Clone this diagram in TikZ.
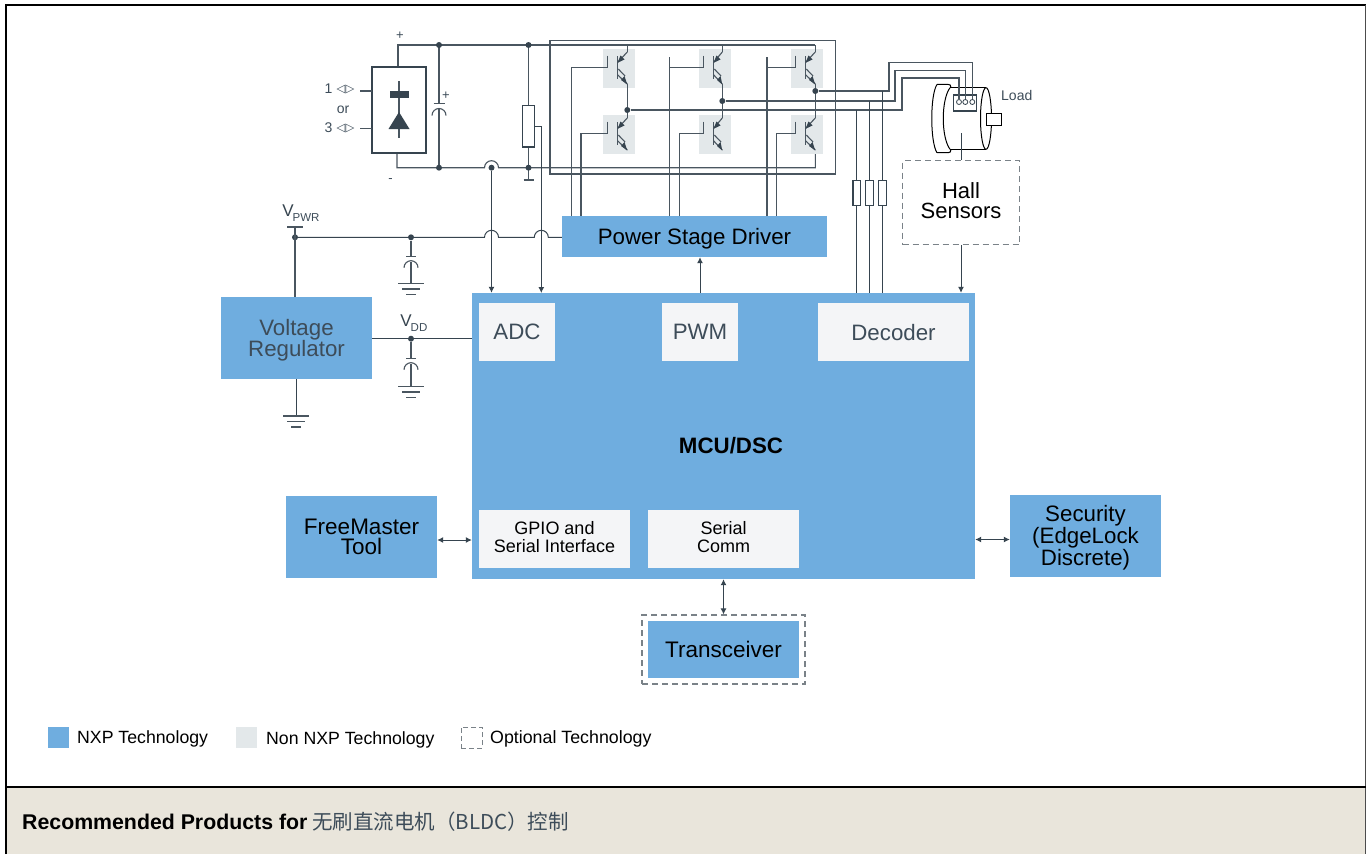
\documentclass[tikz,border=0pt]{standalone}
\usepackage{fontspec}
\setmainfont{Liberation Sans}
\newfontfamily\cjkfont{Noto Sans CJK SC}
\newfontfamily\djfont{DejaVu Sans}
\usetikzlibrary{arrows.meta,calc}
\definecolor{nxpblue}{HTML}{6FADDF}
\definecolor{lite}{HTML}{F4F5F7}
\definecolor{igbt}{HTML}{E3E8EA}
\definecolor{dark}{HTML}{36444F}
\definecolor{wire}{HTML}{4A5660}
\definecolor{txtdark}{HTML}{3D4C59}
\definecolor{band}{HTML}{E9E5DB}
\definecolor{dashc}{HTML}{7A8288}
\tikzset{
  wirel/.style={draw=wire,line width=1.1pt},
  thinw/.style={draw=dark,line width=1pt},
  blk/.style={fill=nxpblue,draw=none,minimum width=#1,inner sep=0pt},
  lbl/.style={inner sep=0pt,align=center,font=\fontsize{22.3}{20}\selectfont},
  lit/.style={fill=lite,draw=none,inner sep=0pt},
  small/.style={inner sep=0pt,align=center,font=\fontsize{18}{18}\selectfont},
  dashbox/.style={draw=dashc,line width=1.2pt,dash pattern=on 6pt off 4pt},
  dotn/.style={circle,fill=dark,draw=none,inner sep=0pt,minimum size=6pt},
  tip1/.style={-{Latex[length=6pt,width=6pt]},draw=dark,line width=1pt},
  tip2/.style={{Latex[length=6pt,width=6pt]}-{Latex[length=6pt,width=6pt]},draw=dark,line width=1pt},
  rst/.style={draw=dark,line width=1.1pt,fill=white},
}
\newcommand{\igbtsym}[3]{%
  \fill[igbt] (#1,#2) rectangle ++(32,39);
  \draw[wirel] (#1+14.5,#2+7) -- (#1+14.5,#2+30);
  \draw[wirel] (#3,#2+3) -- (#1+14.5,#2+13.5);
  \draw[wirel] (#1+15.3,#2+20) -- (#1+22,#2+27);
  \draw[wirel] (#1+14.5,#2+25.7) -- (#3,#2+35);
  \fill[dark] (#1+14.5,#2+13.8) -- (#1+17.5,#2+6.5) -- (#1+21.5,#2+10.5) -- cycle;
  \fill[dark] (#3,#2+35.5) -- (#1+18,#2+31) -- (#1+21.5,#2+27) -- cycle;
  \draw[wirel] (#1+4.3,#2+6.7) -- (#1+4.3,#2+19);
}
\newcommand{\groundsym}[3]{%
  \draw[wirel] (#1-#3,#2) -- (#1+#3,#2);
  \draw[wirel] (#1-#3+4,#2+5.3) -- (#1+#3-4,#2+5.3);
  \draw[wirel] (#1-#3+8,#2+11) -- (#1+#3-8,#2+11);
}
\newcommand{\capsym}[3]{%
  \draw[wirel] (#1-#3,#2) -- (#1+#3,#2);
  \draw[wirel] (#1-7,#2+11) arc[start angle=180,end angle=360,radius=7];
}
\begin{document}
\begin{tikzpicture}[x=1pt,y=-1pt,every node/.style={text=black}]
\useasboundingbox (0,0) rectangle (1367,854);
\fill[white] (0,0) rectangle (1367,854);
\fill[band] (6,787) rectangle (1366,854);
% frame
\draw[black,line width=2.2pt] (6.2,854) -- (6.2,5) -- (1366,5);
\draw[black!70,line width=1pt] (1365.8,5) -- (1365.8,854);
\draw[black,line width=2pt] (6,787) -- (1366,787);

% blocks
\node[blk=151pt,minimum height=82pt] (vreg) at (296.5,338) {};
\node[lbl,text=txtdark,font=\fontsize{22.3}{21.5}\selectfont] (vregt) at (296.5,340) {Voltage\\Regulator};
\node[fill=nxpblue,minimum width=503pt,minimum height=286pt,inner sep=0pt] (mcu) at (723.5,436) {};
\node[font=\fontsize{22.3}{24}\selectfont\bfseries,inner sep=0pt] (mcut) at (731,446) {MCU/DSC};
\node[lit,minimum width=76pt,minimum height=58pt] (adc) at (517,332) {};
\node[lbl,text=txtdark] (adct) at (517,332) {ADC};
\node[lit,minimum width=76pt,minimum height=58pt] (pwm) at (700,332) {};
\node[lbl,text=txtdark] (pwmt) at (700,332) {PWM};
\node[lit,minimum width=151pt,minimum height=58pt] (dec) at (893.5,332) {};
\node[lbl,text=txtdark] (dect) at (893.5,332.5) {Decoder};
\node[lit,minimum width=151pt,minimum height=58pt] (gpio) at (554.5,539) {};
\node[small] (gpiot) at (554.5,537.5) {GPIO and\\Serial Interface};
\node[lit,minimum width=151pt,minimum height=58pt] (ser) at (723.5,539) {};
\node[small] (sert) at (723.5,537.5) {Serial\\Comm};
\node[blk=151pt,minimum height=82pt] (fm) at (361.5,537) {};
\node[lbl,font=\fontsize{22.5}{20.5}\selectfont] (fmt) at (361.5,537) {FreeMaster\\Tool};
\node[blk=151pt,minimum height=82pt] (sec) at (1085.5,536) {};
\node[lbl] (sect) at (1085.5,538) {Security\\(EdgeLock\\Discrete)};
\node[dashbox,minimum width=163pt,minimum height=69pt,inner sep=0pt] (tro) at (723.5,649.5) {};
\node[blk=151pt,minimum height=57pt] (tr) at (723.5,649.5) {};
\node[lbl,font=\fontsize{22.5}{24}\selectfont] (trt) at (723.5,649.5) {Transceiver};
\node[blk=265pt,minimum height=41pt] (psd) at (694.5,236.5) {};
\node[lbl] (psdt) at (694.5,238.5) {Power Stage Driver};
\node[dashbox,minimum width=117pt,minimum height=84pt,inner sep=0pt] (hall) at (961,202.5) {};
\node[lbl,font=\fontsize{22}{20}\selectfont] (hallt) at (961,200.5) {Hall\\Sensors};

% connectors to the MCU
\draw[tip2] (fm.east |- 0,540) -- (mcu.west |- 0,540);
\draw[tip2] (mcu.east |- 0,539.5) -- (sec.west |- 0,539.5);
\draw[tip2] (mcu.south -| tro) -- (tro.north);
\draw[tip1] (mcu.north -| pwm) -- (psd.south -| pwm);
\draw[tip1] (hall.south) -- (mcu.north -| hall);

% power rails
\draw[wirel] (398,67) -- (398,45) -- (815.3,45);
\draw[wirel] (397,153) -- (397,167.7) -- (484.5,167.7) arc[start angle=180,end angle=360,radius=7] -- (815.3,167.7) -- (815.3,154);
\draw[wirel] (550,40.7) rectangle (835.7,174);

% rectifier
\node[draw=dark,line width=1.1pt,minimum width=54pt,minimum height=86pt,inner sep=0pt,fill=white] (rect) at (399,110) {};
\draw[wirel] (399,81) -- (399,138);
\fill[dark] (390,91) rectangle (409,97.6);
\fill[dark] (399,112) -- (409.5,129) -- (388.5,129) -- cycle;
\draw[wirel] (360,91) -- (372,91);
\draw[wirel] (360,128.7) -- (372,128.7);
\node[font=\fontsize{14}{14}\selectfont,text=txtdark,anchor=east,inner sep=0pt] (n1) at (332.5,89) {1};
\node[font=\fontsize{14}{14}\selectfont,text=txtdark,inner sep=0pt] (nor) at (343,110) {or};
\node[font=\fontsize{14}{14}\selectfont,text=txtdark,anchor=east,inner sep=0pt] (n3) at (332.5,128) {3};
\node[font=\djfont\fontsize{11.5}{12}\selectfont,text=txtdark,inner sep=0pt] (s1) at (345.5,89.5) {◁▷};
\node[font=\djfont\fontsize{11.5}{12}\selectfont,text=txtdark,inner sep=0pt] (s3) at (345.5,128.5) {◁▷};
\node[font=\fontsize{13}{14}\selectfont,text=txtdark,inner sep=0pt] (pp) at (400,36) {+};
\node[font=\fontsize{13}{14}\selectfont,text=txtdark,inner sep=0pt] (mm) at (390.5,180.5) {-};
\node[font=\fontsize{13}{14}\selectfont,text=txtdark,inner sep=0pt] (cp) at (446,96) {+};

% bulk capacitor
\draw[wirel] (439,45) -- (439,103.3);
\draw[wirel] (439,108.5) -- (439,167.7);
\draw[wirel] (433.5,103.3) -- (444.5,103.3);
\draw[wirel] (432,115.5) arc[start angle=180,end angle=360,radius=7];
\node[dotn] (d1) at (439,45) {};
\node[dotn] (d2) at (439,167.7) {};
% pot
\node[rst,minimum width=12.5pt,minimum height=41.5pt,inner sep=0pt] (pot) at (528.5,126.2) {};
\draw[wirel] (528.5,45) -- (pot.north);
\draw[wirel] (pot.south) -- (528.5,180);
\draw[wirel] (523.5,180) -- (534,180);
\node[dotn] (d3) at (528.5,45) {};
\node[dotn] (d4) at (528.5,167.7) {};
\node[dotn] (d5) at (491.5,167.7) {};
\draw[tip1] (d5) -- (d5 |- mcu.north);
\draw[tip1] (pot.east |- 0,126.5) -- (541.3,126.5) -- (541.3,293);

% IGBTs
\igbtsym{603}{49}{627.3}
\igbtsym{603}{115}{627.3}
\igbtsym{699}{49}{722.3}
\igbtsym{699}{115}{722.3}
\igbtsym{791}{49}{815.3}
\igbtsym{791}{115}{815.3}
\draw[wirel] (627.3,45) -- (627.3,52);
\draw[wirel] (722.3,45) -- (722.3,52);
\draw[wirel] (815.3,45) -- (815.3,52);
\draw[wirel] (627.3,84) -- (627.3,118);
\draw[wirel] (722.3,84) -- (722.3,118);
\draw[wirel] (815.3,84) -- (815.3,118);
\node[dotn] (p1) at (627.3,110) {};
\node[dotn] (p2) at (722.3,101) {};
\node[dotn] (p3) at (815.3,91) {};
% gate wires
\draw[wirel] (571.7,216) -- (571.7,67.7) -- (607.3,67.7);
\draw[wirel] (581,216) -- (581,133.7) -- (607.3,133.7);
\draw[wirel] (669.3,216) -- (669.3,56.7);
\draw[wirel] (669.3,67.7) -- (703.3,67.7);
\draw[wirel] (679.7,216) -- (679.7,133.7) -- (703.3,133.7);
\draw[wirel] (767,216) -- (767,56.7);
\draw[wirel] (767,67.7) -- (795.3,67.7);
\draw[wirel] (776.3,216) -- (776.3,133.7) -- (795.3,133.7);
% phase wires
\draw[wirel] (p1) -- (902,110) -- (902,78) -- (959,78) -- (959,101);
\draw[wirel] (p2) -- (895,101) -- (895,70.3) -- (965.3,70.3) -- (965.3,101);
\draw[wirel] (p3) -- (889,91) -- (889,62.7) -- (972.3,62.7) -- (972.3,101);
% sense resistors
\draw[thinw] (856.7,110) -- (856.7,293);
\draw[thinw] (869.3,101) -- (869.3,293);
\draw[thinw] (882.3,91) -- (882.3,293);
\node[rst,minimum width=7.5pt,minimum height=24.6pt,inner sep=0pt] (r1) at (856.7,193) {};
\node[rst,minimum width=7.5pt,minimum height=24.6pt,inner sep=0pt] (r2) at (869.3,193) {};
\node[rst,minimum width=7.5pt,minimum height=24.6pt,inner sep=0pt] (r3) at (882.3,193) {};

% motor
\begin{scope}[draw=black,line width=1pt]
\draw (950,87.7) -- (986,87.7) (950,149.3) -- (986,149.3);
\draw (986,118.5) ellipse[x radius=5.5,y radius=30.8];
\draw (937,84.4) .. controls (930,95) and (930,142) .. (937,152.7);
\draw (937,84.4) -- (948,84.4) .. controls (950,84.4) and (951,85) .. (951,87.7);
\draw (937,152.7) -- (948,152.7) .. controls (950,152.7) and (951,152) .. (951,149.3);
\draw (950,87.7) .. controls (941,100) and (941,137) .. (950,149.3);
\end{scope}
\node[draw=black,fill=white,line width=1pt,minimum width=14.5pt,minimum height=12pt,inner sep=0pt] (shaft) at (993.8,119) {};
\node[draw=dark,fill=white,line width=1.1pt,minimum width=23.5pt,minimum height=16pt,inner sep=0pt] (conn) at (965,103) {};
\foreach \px/\nm in {959/c1,965.3/c2,972.3/c3}{
  \node[circle,draw=dark,fill=white,line width=0.8pt,inner sep=0pt,minimum size=5pt] (\nm) at (\px,102) {};
}
\draw[wirel] (959,78) -- (c1);
\draw[wirel] (965.3,70.3) -- (c2);
\draw[wirel] (972.3,62.7) -- (c3);
\draw[thinw] (961,133) -- (hall.north);
\node[font=\fontsize{14}{14}\selectfont,text=txtdark,anchor=west,inner sep=0pt] (load) at (1001,95) {Load};

% VPWR
\coordinate (vtop) at (295,227);
\node[dotn] (vp) at (295,237.3) {};
\draw[wirel] (287,227) -- (303,227);
\draw[wirel] (vtop) -- (vreg.north -| vtop);
\node[dotn] (c1dot) at (411,237.3) {};
\draw[thinw] (vp) -- (484.5,237.3) arc[start angle=180,end angle=360,radius=7] -- (534.3,237.3) arc[start angle=180,end angle=360,radius=7] -- (psd.west |- 0,237.3);
\node[font=\fontsize{17}{18}\selectfont,inner sep=0pt,text=dark] (vpt) at (288,211) {V};
\node[font=\fontsize{11.5}{12}\selectfont,inner sep=0pt,text=txtdark] (vpsub) at (306,218) {PWR};
\draw[wirel] (c1dot) -- (411,256.7);
\capsym{411}{256.7}{5}
\draw[wirel] (411,261.7) -- (411,283.7);
\groundsym{411}{283.7}{13}
% VDD
\draw[thinw] (vreg.east |- 0,338.7) -- (mcu.west |- 0,338.7);
\node[dotn] (vd) at (411,338.7) {};
\node[font=\fontsize{17}{18}\selectfont,inner sep=0pt,text=dark] (vdt) at (406,320.5) {V};
\node[font=\fontsize{11.5}{12}\selectfont,inner sep=0pt,text=txtdark] (vdsub) at (419,328) {DD};
\draw[wirel] (vd) -- (411,358.7);
\capsym{411}{358.7}{5}
\draw[wirel] (411,364.3) -- (411,386.7);
\groundsym{411}{386.7}{13}
% reg ground
\draw[thinw] (296.3,379) -- (296.3,416);
\groundsym{296.3}{416}{13}

% legend
\node[fill=nxpblue,minimum width=21pt,minimum height=21pt,inner sep=0pt] (l1) at (58.5,737.5) {};
\node[fill=igbt,minimum width=21pt,minimum height=21pt,inner sep=0pt] (l2) at (246.5,737.5) {};
\node[dashbox,line width=1pt,dash pattern=on 5pt off 3pt,minimum width=21pt,minimum height=21pt,inner sep=0pt] (l3) at (471.5,737.5) {};
\node[anchor=west,inner sep=0pt,font=\fontsize{17.7}{18}\selectfont] (t1) at (77,739) {NXP Technology};
\node[anchor=west,inner sep=0pt,font=\fontsize{17.7}{18}\selectfont] (t2) at (266,740) {Non NXP Technology};
\node[anchor=west,inner sep=0pt,font=\fontsize{17.8}{18}\selectfont] (t3) at (490,739) {Optional Technology};
% footer
\node[anchor=base west,inner sep=0pt,font=\fontsize{21.3}{22}\selectfont\bfseries] (ft) at (22,829) {Recommended Products for};
\node[anchor=base west,inner sep=0pt,font=\cjkfont\fontsize{20.5}{22}\selectfont,text=txtdark] (ft2) at (312,829) {无刷直流电机（BLDC）控制};
\end{tikzpicture}
\end{document}
